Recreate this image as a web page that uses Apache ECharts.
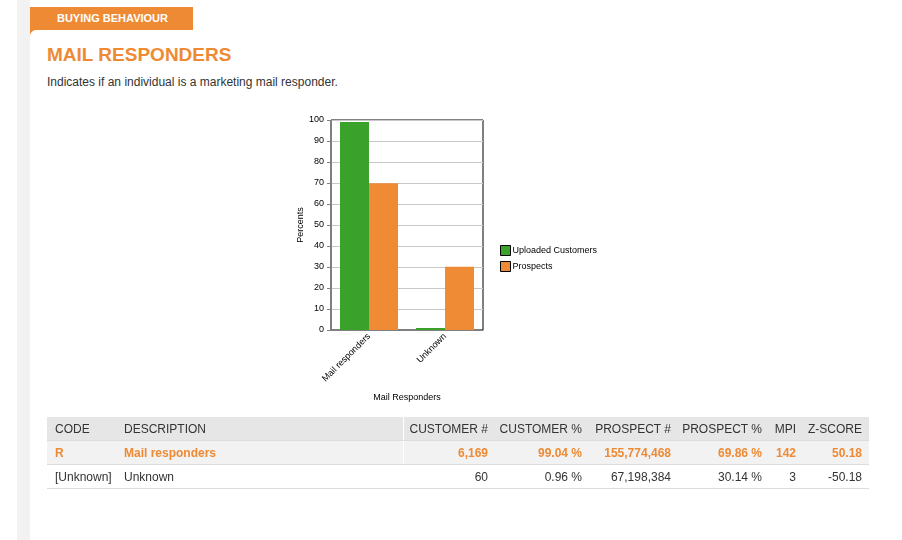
<!DOCTYPE html>
<html>
<head>
<meta charset="utf-8">
<script src="https://cdn.jsdelivr.net/npm/echarts@6/dist/echarts.min.js"></script>
<style>
  html, body { margin: 0; padding: 0; background: #fff; }
  body { width: 902px; height: 540px; position: relative; overflow: hidden; font-family: "Liberation Sans", Arial, sans-serif; color: #333; }
  .strip { position: absolute; left: 17px; top: 0; width: 13px; height: 540px; background: #f2f2f2; }
  .tab { position: absolute; left: 30px; top: 7px; width: 163px; height: 30px; background: #ee8a34; }
  .tab span { position: absolute; left: 1px; top: 5px; width: 163px; text-align: center; color: #fff; font-weight: bold; font-size: 11px; }
  .panel { position: absolute; left: 30px; top: 30px; width: 872px; height: 510px; background: #fff; border-top-left-radius: 6px; }
  h1 { position: absolute; left: 47px; top: 44px; margin: 0; font-size: 19px; font-weight: bold; color: #ee8a34; }
  .sub { position: absolute; left: 47px; top: 75px; font-size: 12px; color: #333; }
  #chart { position: absolute; left: 0; top: 0; width: 902px; height: 540px; }
  table { position: absolute; left: 47px; top: 417px; width: 822px; border-collapse: collapse; table-layout: fixed; font-size: 12px; }
  td, th { height: 23px; padding: 0 7px 0 0; text-align: right; font-weight: normal; white-space: nowrap; border-bottom: 1px solid #dcdcdc; }
  th { background: #e6e6e6; color: #333; }
  td.l, th.l { text-align: left; padding: 0 0 0 8px; }
  .c3 { border-left: 1px solid #fff; }
  tr.hl td { background: #f2f2f2; color: #ee8a34; font-weight: bold; }
</style>
</head>
<body>
<div class="strip"></div>
<div class="tab"><span>BUYING BEHAVIOUR</span></div>
<div class="panel"></div>
<h1>MAIL RESPONDERS</h1>
<div class="sub">Indicates if an individual is a marketing mail responder.</div>
<div id="chart"></div>
<table id="tbl"></table>
<script>
// chart data
const categories = ['Mail responders', 'Unknown'];
const customerPct = [99.04, 0.96];
const prospectPct = [69.86, 30.14];
const seriesNames = ['Uploaded Customers', 'Prospects'];

// table data
const headers = ['CODE', 'DESCRIPTION', 'CUSTOMER #', 'CUSTOMER %', 'PROSPECT #', 'PROSPECT %', 'MPI', 'Z-SCORE'];
const codes = ['R', '[Unknown]'];
const descriptions = ['Mail responders', 'Unknown'];
const customerCounts = ['6,169', '60'];
const prospectCounts = ['155,774,468', '67,198,384'];
const mpi = [142, 3];
const zScores = ['50.18', '-50.18'];
const colWidths = [69, 287, 92, 94, 89, 91, 34, 66];

const GREEN = '#3aa12b';
const ORANGE = '#ef8b35';

// build table
const tbl = document.getElementById('tbl');
let html = '<colgroup>' + colWidths.map(w => `<col style="width:${w}px">`).join('') + '</colgroup>';
html += '<tr>' + headers.map((h, i) => `<th class="${i < 2 ? 'l' : ''} ${i === 2 ? 'c3' : ''}">${h}</th>`).join('') + '</tr>';
for (let i = 0; i < codes.length; i++) {
  const cells = [codes[i], descriptions[i], customerCounts[i], customerPct[i].toFixed(2) + ' %',
    prospectCounts[i], prospectPct[i].toFixed(2) + ' %', mpi[i], zScores[i]];
  html += `<tr class="${i === 0 ? 'hl' : ''}">` + cells.map((c, j) => `<td class="${j < 2 ? 'l' : ''} ${j === 2 ? 'c3' : ''}">${c}</td>`).join('') + '</tr>';
}
tbl.innerHTML = html;

// chart
const myChart = echarts.init(document.getElementById('chart'));
const smallFont = { fontFamily: 'Liberation Sans', fontSize: 9, color: '#000' };

myChart.setOption({
  animation: false,
  grid: {
    left: 331, top: 120, width: 152, height: 210,
    show: true, borderColor: '#000', borderWidth: 1, backgroundColor: 'transparent'
  },
  legend: {
    left: 500, top: 245, orient: 'vertical', padding: 0,
    itemWidth: 10, itemHeight: 10, itemGap: 5,
    icon: 'rect',
    itemStyle: { borderColor: '#000', borderWidth: 1 },
    textStyle: { ...smallFont, padding: [0, 0, 0, -3] },
    data: seriesNames
  },
  xAxis: {
    type: 'category',
    data: categories,
    name: 'Mail Responders',
    nameLocation: 'middle',
    nameGap: 63,
    nameTextStyle: smallFont,
    axisLine: { lineStyle: { color: '#808080' } },
    axisTick: { alignWithLabel: true, length: 4, lineStyle: { color: '#000' } },
    axisLabel: { rotate: 45, margin: 5, ...smallFont }
  },
  yAxis: {
    type: 'value',
    min: 0, max: 100, interval: 10,
    name: 'Percents',
    nameLocation: 'middle',
    nameGap: 22,
    nameTextStyle: smallFont,
    axisLine: { show: true, lineStyle: { color: '#808080' } },
    axisTick: { show: true, length: 4, lineStyle: { color: '#808080' } },
    axisLabel: { margin: 7, ...smallFont },
    splitLine: { lineStyle: { color: '#c8c8c8' } }
  },
  series: [
    { name: seriesNames[0], type: 'bar', data: customerPct, barWidth: 29, barGap: '0%', itemStyle: { color: GREEN } },
    { name: seriesNames[1], type: 'bar', data: prospectPct, barWidth: 29, barGap: '0%', itemStyle: { color: ORANGE } }
  ]
});
</script>
</body>
</html>
